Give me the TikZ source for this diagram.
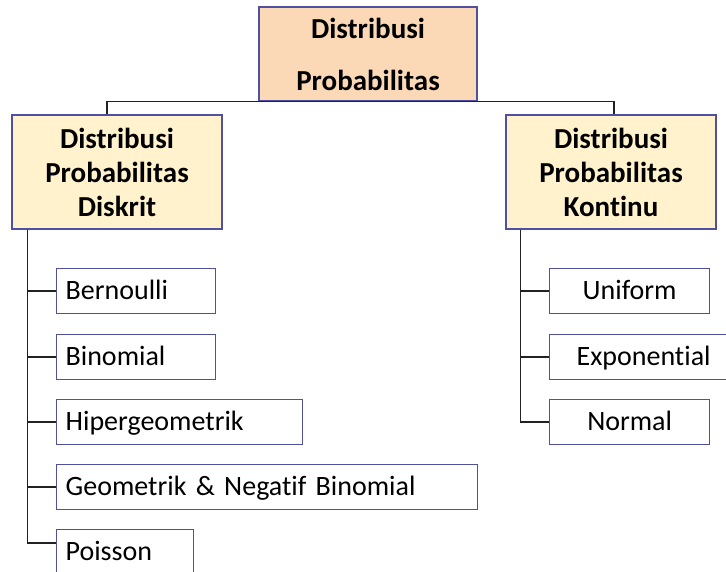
\documentclass[tikz,border=0pt]{standalone}
\usepackage{fontspec}
\setmainfont{Carlito}[Ligatures=NoCommon]
\definecolor{topfill}{HTML}{FCD9B6}
\definecolor{catfill}{HTML}{FFF2CC}
\definecolor{boxedge}{HTML}{5050A0}
\definecolor{wire}{HTML}{222222}
\tikzset{
  headbox/.style={draw=boxedge, line width=1.3pt, inner sep=0pt, align=center,
    font=\fontsize{29}{34}\selectfont\bfseries},
  leafbox/.style={draw=boxedge, line width=1.3pt, fill=white, inner ysep=0pt, inner xsep=9pt,
    minimum height=45, anchor=north west, text height=17.5pt, text depth=0pt,
    font=\fontsize{28}{32}\selectfont},
  conn/.style={draw=wire, line width=1.6pt}
}
\begin{document}
\begin{tikzpicture}[x=1pt,y=-1pt]
\useasboundingbox (0,0) rectangle (726,571);
\clip (0,0) rectangle (726,571);
\fill[white] (0,0) rectangle (726,571);

\node[headbox, fill=topfill, minimum width=218, minimum height=94,
      font=\fontsize{29}{52}\selectfont\bfseries] (top) at (368,54) {Distribusi\\Probabilitas};
\node[headbox, fill=catfill, minimum width=210, minimum height=114] (L) at (117,172)
  {Distribusi\\Probabilitas\\Diskrit};
\node[headbox, fill=catfill, minimum width=210, minimum height=114] (R) at (611,172)
  {Distribusi\\Probabilitas\\Kontinu};

\draw[conn] ([xshift=-10pt]L.north) |- (top.south) -| ([xshift=3pt]R.north);

% discrete leaves
\node[leafbox, text width=141, align=left] (b1) at (56,268) {Bernoulli};
\node[leafbox, text width=141, align=left] (b2) at (56,334) {Binomial};
\node[leafbox, text width=228, align=left] (b3) at (56,399) {Hipergeometrik};
\node[leafbox, text width=403, align=left] (b4) at (56,464) {Geometrik \& Negatif Binomial};
\node[leafbox, text width=119, align=left] (b5) at (56,529) {Poisson};

\coordinate (lt) at ([xshift=16pt]L.south west);
\draw[conn] (lt) |- (b1.west);
\draw[conn] (lt) |- (b2.west);
\draw[conn] (lt) |- (b3.west);
\draw[conn] (lt) |- (b4.west);
\draw[conn] (lt) |- ([yshift=-14pt]b5.north west);

% continuous leaves
\node[leafbox, text width=142, align=center] (c1) at (549,268) {Uniform};
\node[leafbox, text width=170, align=center] (c2) at (549,334) {Exponential};
\node[leafbox, text width=142, align=center] (c3) at (549,399) {Normal};

\coordinate (rt) at ([xshift=15pt]R.south west);
\draw[conn] (rt) |- (c1.west);
\draw[conn] (rt) |- (c2.west);
\draw[conn] (rt) |- (c3.west);
\end{tikzpicture}
\end{document}
